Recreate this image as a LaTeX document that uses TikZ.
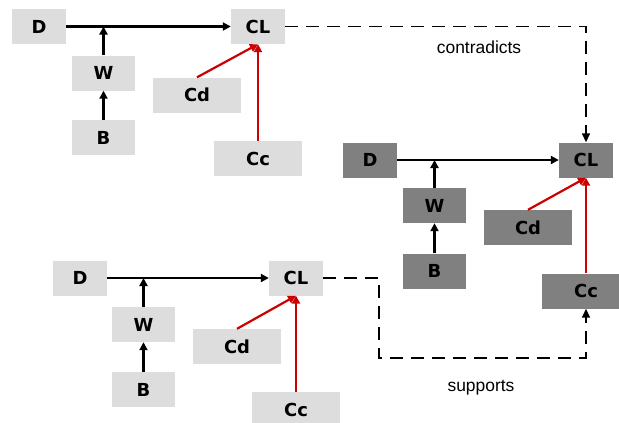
\documentclass[tikz,border=0pt]{standalone}
\usepackage{fontspec}
\setmainfont{Liberation Sans}
\newfontfamily\boxfont{DejaVu Sans}
\usetikzlibrary{arrows.meta}
\definecolor{lightbox}{RGB}{221,221,221}
\definecolor{darkbox}{RGB}{128,128,128}
\definecolor{redarrow}{RGB}{204,0,0}
\tikzset{
  lbox/.style={fill=lightbox, draw=none, inner sep=0pt, font=\boxfont\bfseries\fontsize{18}{21}\selectfont},
  dbox/.style={fill=darkbox, draw=none, inner sep=0pt, font=\boxfont\bfseries\fontsize{18}{21}\selectfont},
  sz1/.style={minimum width=54bp, minimum height=35bp},
  sz2/.style={minimum width=63bp, minimum height=35bp},
  sz3/.style={minimum width=88bp, minimum height=35bp},
  blk/.style={line width=2.2bp, -{Triangle[length=8bp,width=8bp]}},
  redl/.style={line width=2.2bp, draw=redarrow, -{Triangle[length=8bp,width=8bp]}, color=redarrow},
  dsh/.style={line width=1.6bp, dash pattern=on 13bp off 8bp, -{Triangle[length=9bp,width=8bp]}},
  lbl/.style={font=\fontsize{17.5}{20}\selectfont, inner sep=0pt}
}
\begin{document}
\begin{tikzpicture}[x=1bp,y=-1bp]
\useasboundingbox (0,0) rectangle (619,422);
% top group
\node[lbox,sz1] (tD) at (39,26.5) {D};
\node[lbox,sz1] (tCL) at (258,26.5) {CL};
\node[lbox,sz2] (tW) at (103.5,73) {W};
\node[lbox,sz2] (tB) at (103.5,137.5) {B};
\node[lbox,sz3] (tCd) at (197,95) {Cd};
\node[lbox,sz3] (tCc) at (258,158.5) {Cc};
\draw[blk] (tD.east) -- (tCL.west);
\draw[blk] (tW.north) -- (tW.north |- tD.east);
\draw[blk] (tB.north) -- (tW.south);
\draw[redl] (tCd.north) -- (tCL.south);
\draw[redl] (tCc.north) -- (tCL.south);
% right group
\node[dbox,sz1] (rD) at (370,160) {D};
\node[dbox,sz1] (rCL) at (586,160) {CL};
\node[dbox,sz2] (rW) at (434.5,205.5) {W};
\node[dbox,sz2] (rB) at (434.5,271) {B};
\node[dbox,sz3] (rCd) at (528,227.5) {Cd};
\node[dbox,sz3] (rCc) at (586,291) {Cc};
\draw[blk] (rD.east) -- (rCL.west);
\draw[blk] (rW.north) -- (rW.north |- rD.east);
\draw[blk] (rB.north) -- (rW.south);
\draw[redl] (rCd.north) -- (rCL.south);
\draw[redl] (rCc.north) -- (rCL.south);
% bottom group
\node[lbox,sz1] (bD) at (80,278) {D};
\node[lbox,sz1] (bCL) at (296,278) {CL};
\node[lbox,sz2] (bW) at (143.5,324.5) {W};
\node[lbox,sz2] (bB) at (143.5,389.5) {B};
\node[lbox,sz3] (bCd) at (237,346.5) {Cd};
\node[lbox,sz3] (bCc) at (296,409.5) {Cc};
\draw[blk] (bD.east) -- (bCL.west);
\draw[blk] (bW.north) -- (bW.north |- bD.east);
\draw[blk] (bB.north) -- (bW.south);
\draw[redl] (bCd.north) -- (bCL.south);
\draw[redl] (bCc.north) -- (bCL.south);
% relations
\draw[dsh] (tCL.east) -| (rCL.north);
\coordinate (s1) at (379,358);
\draw[dsh] (bCL.east) -| (s1) -| (rCc.south);
\node[lbl] (contr) at (479,47) {contradicts};
\node[lbl] (supp) at (481,388) {supports};
\end{tikzpicture}
\end{document}
